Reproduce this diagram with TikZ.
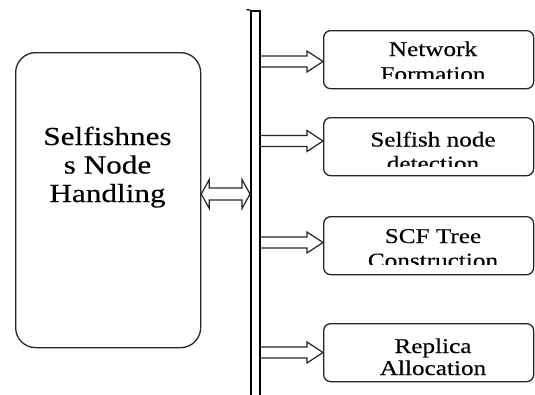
\documentclass[tikz,border=0pt]{standalone}
\usepackage{fontspec}
\setmainfont{Liberation Serif}
\newfontfamily\labelfont[FakeStretch=1.2,FakeBold=0.3]{Liberation Serif}
\usetikzlibrary{calc}

% hollow block arrow from a start point #1 to a tip #2 (same height)
\newcommand\blockarrow[2]{%
  \draw[fat] ($(#1)+(0,-5.5)$) -- ($(#2)+(-16,-5.5)$) -- ($(#2)+(-16,-10.5)$)
    -- (#2) -- ($(#2)+(-16,10.5)$) -- ($(#2)+(-16,5.5)$) -- ($(#1)+(0,5.5)$);}

\begin{document}
\begin{tikzpicture}[x=1pt,y=-1pt,
  outline/.style={draw=black!85, line width=1.3pt},
  bigbox/.style={outline, rounded corners=20pt, minimum width=185pt,
    minimum height=295pt, anchor=north west, inner sep=0pt},
  taskbox/.style={outline, rounded corners=7pt, minimum width=210pt,
    minimum height=58pt, anchor=north west, inner sep=0pt},
  busbar/.style={draw=black, line width=1.7pt, minimum width=9pt,
    minimum height=420pt, anchor=north west, inner sep=0pt},
  fat/.style={draw=black!85, line width=1.2pt, line join=miter},
  bigtxt/.style={font=\labelfont\fontsize{26}{28}\selectfont, anchor=base, inner sep=0pt},
  smalltxt/.style={font=\labelfont\fontsize{21}{24}\selectfont, anchor=base, inner sep=0pt}]

\useasboundingbox (0,0) rectangle (535,394);
\clip (0,0) rectangle (535,394);

% left block
\node[bigbox] (handler) at (15,52) {};
\node[bigtxt] (h1) at (107.5,145) {Selfishnes};
\node[bigtxt] (h2) at (107.5,173.5) {s Node};
\node[bigtxt] (h3) at (107.5,202) {Handling};

% vertical bus
\node[busbar] (bus) at (250,10) {};
\draw[line width=1.2pt] (246.5,9.5) -- (bus.north west);

% task blocks
\node[taskbox] (t1) at (323,30) {};
\node[taskbox] (t2) at (323,117) {};
\node[taskbox] (t3) at (323,216) {};
\node[taskbox] (t4) at (323,323) {};

\begin{scope}
  \clip (323,30) rectangle (533,78);
  \node[smalltxt] (t1a) at (433,56) {Network};
  \node[smalltxt] (t1b) at (433,81) {Formation};
\end{scope}
\begin{scope}
  \clip (323,117) rectangle (533,166);
  \node[smalltxt] (t2a) at (433,146.5) {Selfish node};
  \node[smalltxt] (t2b) at (433,170.5) {detection};
\end{scope}
\begin{scope}
  \clip (323,216) rectangle (533,264);
  \node[smalltxt] (t3a) at (433,243) {SCF Tree};
  \node[smalltxt] (t3b) at (433,267.5) {Construction};
\end{scope}
\node[smalltxt] (t4a) at (433,353) {Replica};
\node[smalltxt] (t4b) at (433,375) {Allocation};

% block arrows from the bus to the tasks
\coordinate (y1) at (0,61.5);
\coordinate (y2) at (0,141);
\coordinate (y3) at (0,242.5);
\coordinate (y4) at (0,352.5);
\foreach \i in {1,2,3,4}{
  \coordinate (s\i) at (bus.east |- y\i);
  \coordinate (e\i) at (t\i.west |- y\i);
  \blockarrow{s\i}{e\i}
}

% two-headed block arrow between the left block and the bus
\coordinate (yd) at (0,194);
\coordinate (dl) at (handler.east |- yd);
\coordinate (dr) at (bus.west |- yd);
\draw[fat] (dl) -- ($(dl)+(8,-14.5)$) -- ($(dl)+(8,-6)$) -- ($(dr)+(-8,-6)$)
  -- ($(dr)+(-8,-14.5)$) -- (dr) -- ($(dr)+(-8,14.5)$) -- ($(dr)+(-8,6)$)
  -- ($(dl)+(8,6)$) -- ($(dl)+(8,14.5)$) -- cycle;
\end{tikzpicture}
\end{document}
